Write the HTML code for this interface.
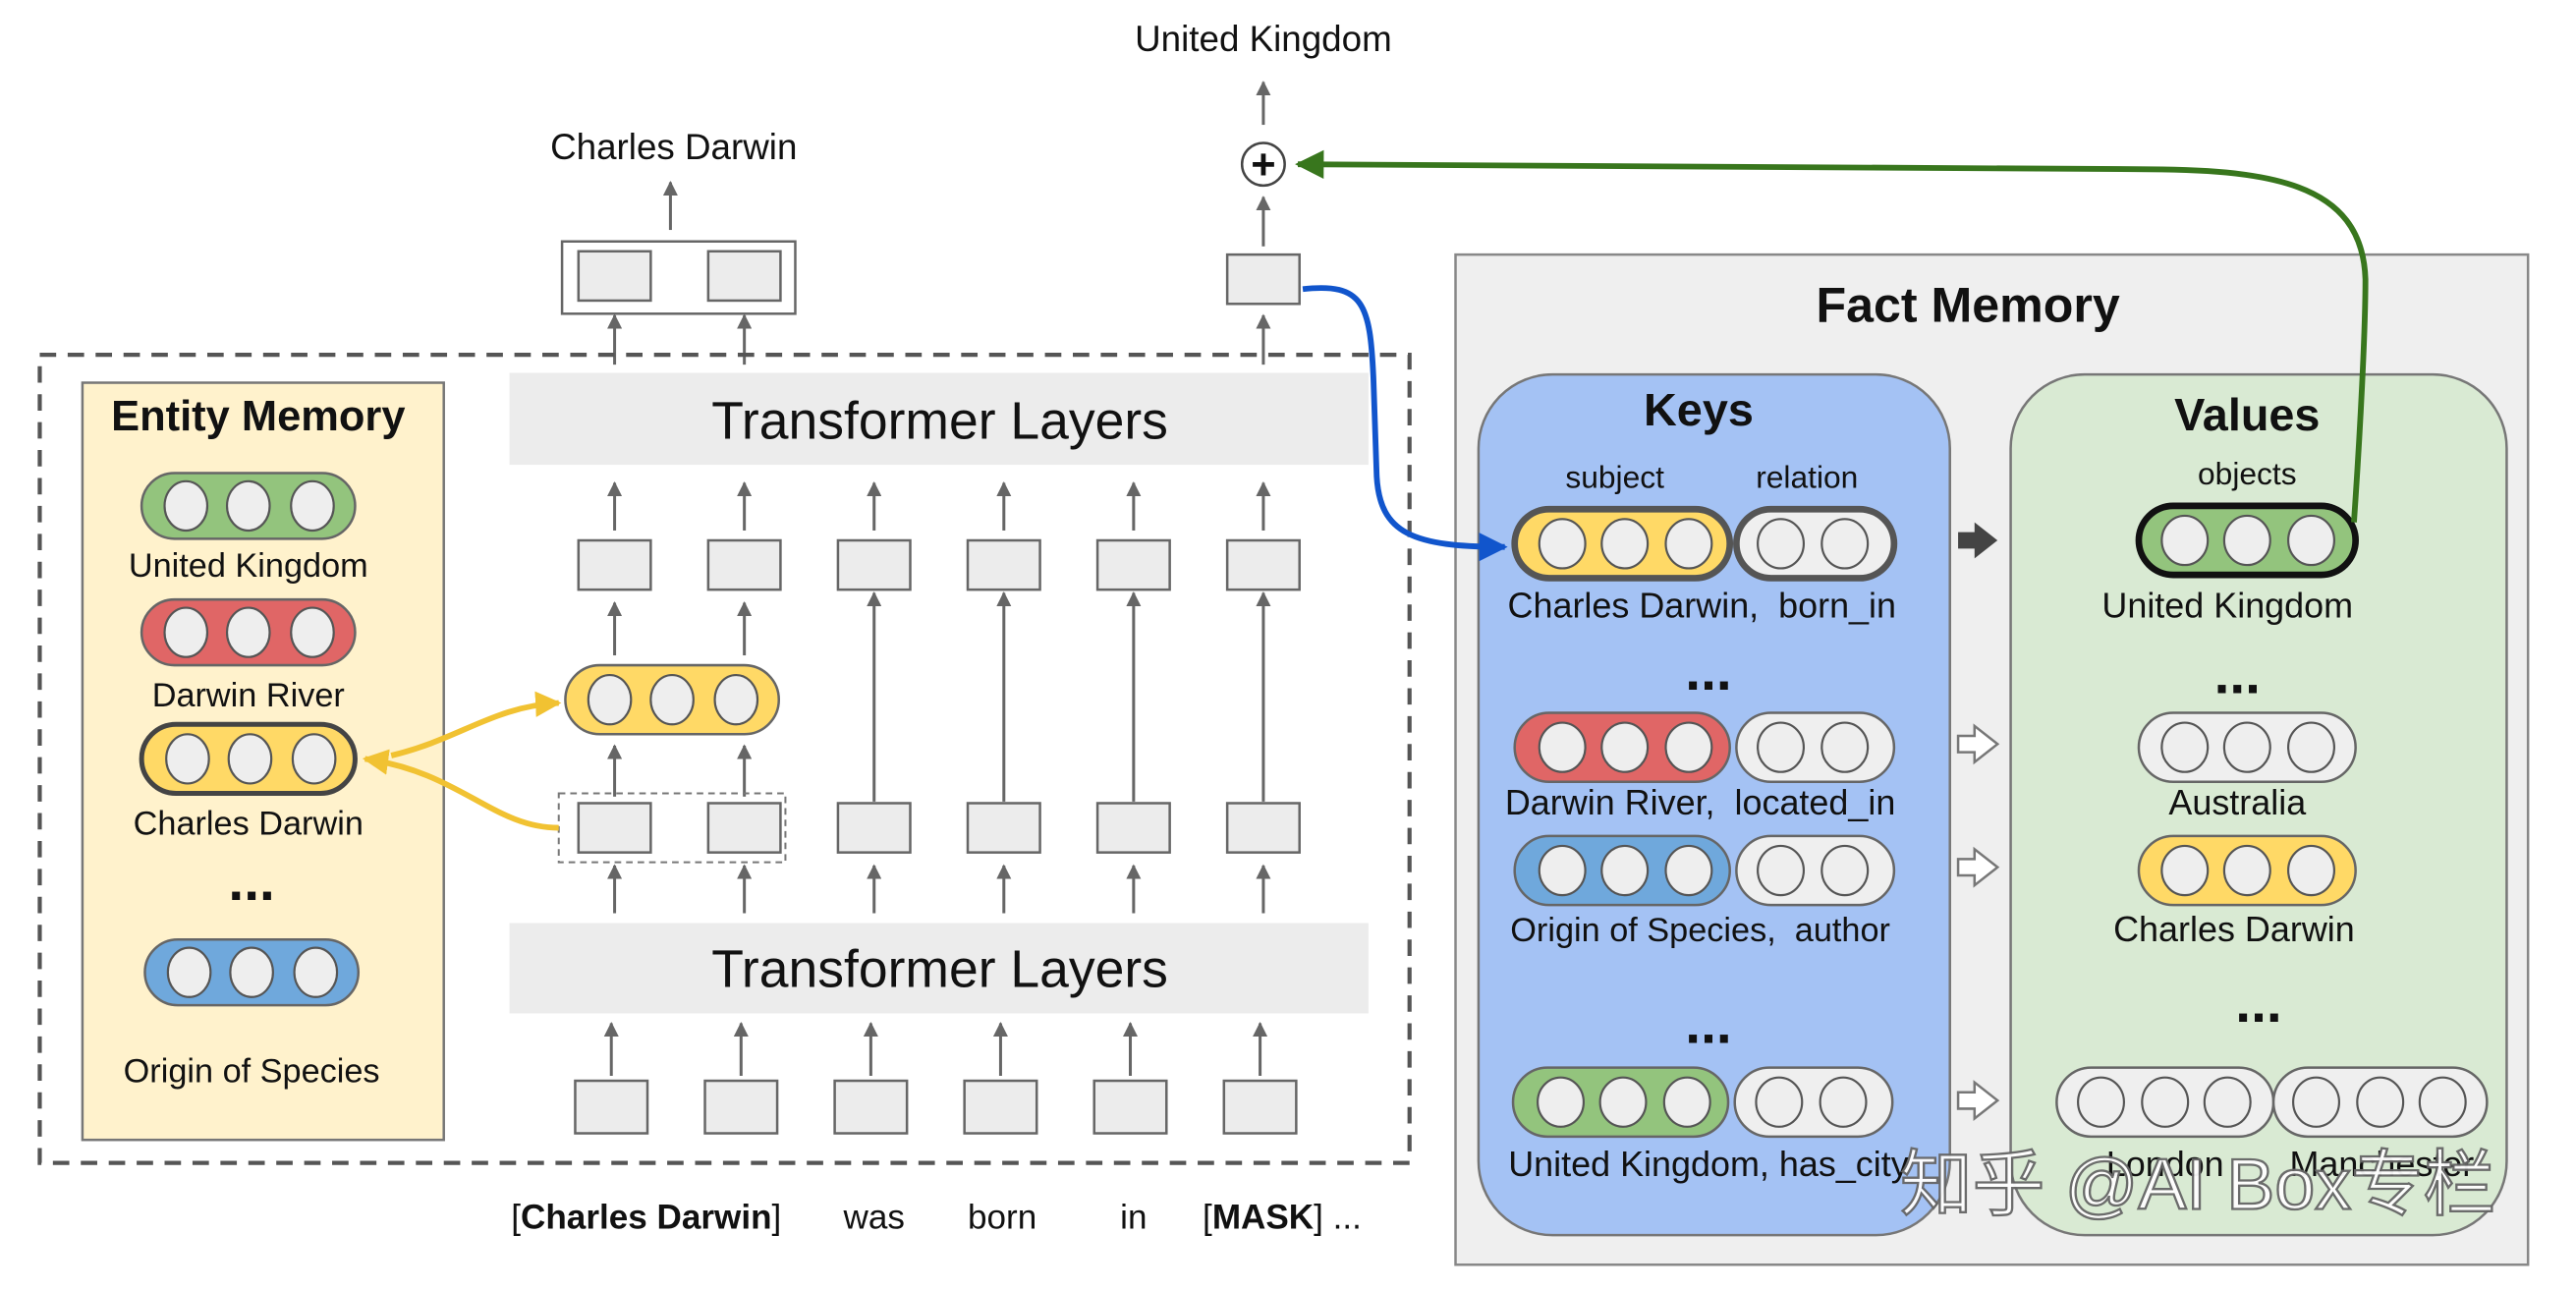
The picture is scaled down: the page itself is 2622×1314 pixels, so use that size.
<!DOCTYPE html>
<html><head><meta charset="utf-8"><style>
html,body{margin:0;padding:0;background:#fff;width:2622px;height:1314px;overflow:hidden}
svg{display:block}
text{font-family:"Liberation Sans","Noto Sans CJK SC",sans-serif;fill:#111}
</style></head><body>
<svg width="2622" height="1314" viewBox="0 0 1568 786" xmlns="http://www.w3.org/2000/svg">
<defs>
<marker id="ag" viewBox="0 0 10 10" refX="9" refY="5" markerWidth="5" markerHeight="5" orient="auto"><path d="M0,0 L10,5 L0,10z" fill="#666"/></marker>
<marker id="ay" viewBox="0 0 10 10" refX="9" refY="5" markerWidth="4.5" markerHeight="4.5" orient="auto"><path d="M0,0 L10,5 L0,10z" fill="#f1c232"/></marker>
<marker id="ab" viewBox="0 0 10 10" refX="9" refY="5" markerWidth="5" markerHeight="5" orient="auto"><path d="M0,0 L10,5 L0,10z" fill="#1155cc"/></marker>
<marker id="agr" viewBox="0 0 10 10" refX="9" refY="5" markerWidth="5" markerHeight="5" orient="auto"><path d="M0,0 L10,5 L0,10z" fill="#38761d"/></marker>
</defs>
<g stroke="#666" stroke-width="1.8" marker-end="url(#ag)" fill="none">
<line x1="769" y1="76" x2="769" y2="50"/>
<line x1="769" y1="150" x2="769" y2="120"/>
<line x1="769" y1="222" x2="769" y2="192"/>
<line x1="408" y1="140" x2="408" y2="111"/>
<line x1="374" y1="222" x2="374" y2="192"/>
<line x1="453" y1="222" x2="453" y2="192"/>
</g>
<text x="769" y="31" font-size="22" text-anchor="middle">United Kingdom</text>
<text x="410" y="97" font-size="22" text-anchor="middle">Charles Darwin</text>
<circle cx="769" cy="100" r="13" fill="#fff" stroke="#444" stroke-width="1.5"/>
<text x="769" y="109" font-size="26" font-weight="bold" text-anchor="middle">+</text>
<rect x="747" y="155" width="44" height="30" fill="#ececec" stroke="#666" stroke-width="1.5"/>
<rect x="342" y="147" width="142" height="44" fill="#fff" stroke="#666" stroke-width="1.5"/>
<rect x="352" y="153" width="44" height="30" fill="#ececec" stroke="#666" stroke-width="1.5"/>
<rect x="431" y="153" width="44" height="30" fill="#ececec" stroke="#666" stroke-width="1.5"/>
<rect x="24" y="216" width="834" height="492" fill="none" stroke="#555" stroke-width="2.5" stroke-dasharray="10,7"/>
<rect x="50" y="233" width="220" height="461" fill="#fff2cc" stroke="#777" stroke-width="1.5"/>
<text x="157" y="262" font-size="26" font-weight="bold" text-anchor="middle">Entity Memory</text>
<g stroke="#666" stroke-width="1.5">
<rect x="86" y="288" width="130" height="40" rx="20" fill="#93c47d"/>
<rect x="86" y="365" width="130" height="40" rx="20" fill="#e06666"/>
<rect x="86" y="441" width="130" height="42" rx="21" fill="#ffd966" stroke="#444" stroke-width="3"/>
<rect x="88" y="572" width="130" height="40" rx="20" fill="#6fa8dc"/>
<rect x="344" y="405" width="130" height="42" rx="21" fill="#ffd966"/>
</g>
<g fill="#eee" stroke="#555" stroke-width="1.3">
<ellipse cx="113" cy="308" rx="13" ry="15"/><ellipse cx="151" cy="308" rx="13" ry="15"/><ellipse cx="190" cy="308" rx="13" ry="15"/>
<ellipse cx="113" cy="385" rx="13" ry="15"/><ellipse cx="151" cy="385" rx="13" ry="15"/><ellipse cx="190" cy="385" rx="13" ry="15"/>
<ellipse cx="114" cy="462" rx="13" ry="15"/><ellipse cx="152" cy="462" rx="13" ry="15"/><ellipse cx="191" cy="462" rx="13" ry="15"/>
<ellipse cx="115" cy="592" rx="13" ry="15"/><ellipse cx="153" cy="592" rx="13" ry="15"/><ellipse cx="192" cy="592" rx="13" ry="15"/>
<ellipse cx="371" cy="426" rx="13" ry="15"/><ellipse cx="409" cy="426" rx="13" ry="15"/><ellipse cx="448" cy="426" rx="13" ry="15"/>
</g>
<g font-size="20.5" text-anchor="middle">
<text x="151" y="351">United Kingdom</text>
<text x="151" y="430">Darwin River</text>
<text x="151" y="508">Charles Darwin</text>
<text x="153" y="659">Origin of Species</text>
</g>
<text x="153" y="548" font-size="34" font-weight="bold" text-anchor="middle">...</text>
<rect x="310" y="227" width="523" height="56" fill="#ececec"/>
<text x="572" y="267" font-size="32" text-anchor="middle">Transformer Layers</text>
<rect x="310" y="562" width="523" height="55" fill="#ececec"/>
<text x="572" y="601" font-size="32" text-anchor="middle">Transformer Layers</text>
<g stroke="#666" stroke-width="1.8" marker-end="url(#ag)" fill="none">
<line x1="374" y1="323" x2="374" y2="294"/><line x1="453" y1="323" x2="453" y2="294"/><line x1="532" y1="323" x2="532" y2="294"/><line x1="611" y1="323" x2="611" y2="294"/><line x1="690" y1="323" x2="690" y2="294"/><line x1="769" y1="323" x2="769" y2="294"/>
<line x1="374" y1="399" x2="374" y2="367"/><line x1="453" y1="399" x2="453" y2="367"/>
<line x1="374" y1="485" x2="374" y2="454"/><line x1="453" y1="485" x2="453" y2="454"/>
<line x1="532" y1="488" x2="532" y2="361"/><line x1="611" y1="488" x2="611" y2="361"/><line x1="690" y1="488" x2="690" y2="361"/><line x1="769" y1="488" x2="769" y2="361"/>
<line x1="374" y1="556" x2="374" y2="527"/><line x1="453" y1="556" x2="453" y2="527"/><line x1="532" y1="556" x2="532" y2="527"/><line x1="611" y1="556" x2="611" y2="527"/><line x1="690" y1="556" x2="690" y2="527"/><line x1="769" y1="556" x2="769" y2="527"/>
<line x1="372" y1="655" x2="372" y2="623"/><line x1="451" y1="655" x2="451" y2="623"/><line x1="530" y1="655" x2="530" y2="623"/><line x1="609" y1="655" x2="609" y2="623"/><line x1="688" y1="655" x2="688" y2="623"/><line x1="767" y1="655" x2="767" y2="623"/>
</g>
<g fill="#ececec" stroke="#666" stroke-width="1.5">
<rect x="352" y="329" width="44" height="30"/><rect x="431" y="329" width="44" height="30"/><rect x="510" y="329" width="44" height="30"/><rect x="589" y="329" width="44" height="30"/><rect x="668" y="329" width="44" height="30"/><rect x="747" y="329" width="44" height="30"/>
<rect x="352" y="489" width="44" height="30"/><rect x="431" y="489" width="44" height="30"/><rect x="510" y="489" width="44" height="30"/><rect x="589" y="489" width="44" height="30"/><rect x="668" y="489" width="44" height="30"/><rect x="747" y="489" width="44" height="30"/>
<rect x="350" y="658" width="44" height="32"/><rect x="429" y="658" width="44" height="32"/><rect x="508" y="658" width="44" height="32"/><rect x="587" y="658" width="44" height="32"/><rect x="666" y="658" width="44" height="32"/><rect x="745" y="658" width="44" height="32"/>
</g>
<rect x="340" y="483" width="138" height="42" fill="none" stroke="#777" stroke-width="1.2" stroke-dasharray="4,3"/>
<g font-size="21">
<text x="311" y="748">[<tspan font-weight="bold">Charles Darwin</tspan>]</text>
<text x="532" y="748" text-anchor="middle">was</text>
<text x="610" y="748" text-anchor="middle">born</text>
<text x="690" y="748" text-anchor="middle">in</text>
<text x="732" y="748">[<tspan font-weight="bold">MASK</tspan>] ...</text>
</g>
<path d="M340,504 C300,504 280,470 222,462" stroke="#f1c232" stroke-width="3.5" fill="none" marker-end="url(#ay)"/>
<path d="M238,460 C280,450 300,430 340,428" stroke="#f1c232" stroke-width="3.5" fill="none" marker-end="url(#ay)"/>
<rect x="886" y="155" width="653" height="615" fill="#efefef" stroke="#888" stroke-width="1.5"/>
<text x="1198" y="196" font-size="30" font-weight="bold" text-anchor="middle">Fact Memory</text>
<rect x="900" y="228" width="287" height="524" rx="45" fill="#a4c2f4" stroke="#777" stroke-width="1.5"/>
<rect x="1224" y="228" width="302" height="524" rx="45" fill="#d9ead3" stroke="#777" stroke-width="1.5"/>
<text x="1034" y="259" font-size="28" font-weight="bold" text-anchor="middle">Keys</text>
<text x="1368" y="262" font-size="28" font-weight="bold" text-anchor="middle">Values</text>
<text x="983" y="297" font-size="19" text-anchor="middle">subject</text>
<text x="1100" y="297" font-size="19" text-anchor="middle">relation</text>
<text x="1368" y="295" font-size="19" text-anchor="middle">objects</text>
<g stroke="#666" stroke-width="1.5">
<rect x="922" y="310" width="131" height="42" rx="21" fill="#ffd966" stroke="#555" stroke-width="4"/>
<rect x="1057" y="310" width="96" height="42" rx="21" fill="#efefef" stroke="#555" stroke-width="4"/>
<rect x="922" y="434" width="131" height="42" rx="21" fill="#e06666"/>
<rect x="1057" y="434" width="96" height="42" rx="21" fill="#efefef"/>
<rect x="922" y="509" width="131" height="42" rx="21" fill="#6fa8dc"/>
<rect x="1057" y="509" width="96" height="42" rx="21" fill="#efefef"/>
<rect x="921" y="650" width="131" height="42" rx="21" fill="#93c47d"/>
<rect x="1056" y="650" width="96" height="42" rx="21" fill="#efefef"/>
<rect x="1302" y="308" width="132" height="42" rx="21" fill="#93c47d" stroke="#111" stroke-width="4"/>
<rect x="1302" y="434" width="132" height="42" rx="21" fill="#efefef"/>
<rect x="1302" y="509" width="132" height="42" rx="21" fill="#ffd966"/>
<rect x="1252" y="650" width="132" height="42" rx="21" fill="#efefef"/>
<rect x="1384" y="650" width="130" height="42" rx="21" fill="#efefef"/>
</g>
<g fill="#eee" stroke="#555" stroke-width="1.3">
<ellipse cx="951" cy="331" rx="14" ry="15"/><ellipse cx="989" cy="331" rx="14" ry="15"/><ellipse cx="1028" cy="331" rx="14" ry="15"/><ellipse cx="1084" cy="331" rx="14" ry="15"/><ellipse cx="1123" cy="331" rx="14" ry="15"/>
<ellipse cx="951" cy="455" rx="14" ry="15"/><ellipse cx="989" cy="455" rx="14" ry="15"/><ellipse cx="1028" cy="455" rx="14" ry="15"/><ellipse cx="1084" cy="455" rx="14" ry="15"/><ellipse cx="1123" cy="455" rx="14" ry="15"/>
<ellipse cx="951" cy="530" rx="14" ry="15"/><ellipse cx="989" cy="530" rx="14" ry="15"/><ellipse cx="1028" cy="530" rx="14" ry="15"/><ellipse cx="1084" cy="530" rx="14" ry="15"/><ellipse cx="1123" cy="530" rx="14" ry="15"/>
<ellipse cx="950" cy="671" rx="14" ry="15"/><ellipse cx="988" cy="671" rx="14" ry="15"/><ellipse cx="1027" cy="671" rx="14" ry="15"/><ellipse cx="1083" cy="671" rx="14" ry="15"/><ellipse cx="1122" cy="671" rx="14" ry="15"/>
<ellipse cx="1330" cy="329" rx="14" ry="15"/><ellipse cx="1368" cy="329" rx="14" ry="15"/><ellipse cx="1407" cy="329" rx="14" ry="15"/>
<ellipse cx="1330" cy="455" rx="14" ry="15"/><ellipse cx="1368" cy="455" rx="14" ry="15"/><ellipse cx="1407" cy="455" rx="14" ry="15"/>
<ellipse cx="1330" cy="530" rx="14" ry="15"/><ellipse cx="1368" cy="530" rx="14" ry="15"/><ellipse cx="1407" cy="530" rx="14" ry="15"/>
<ellipse cx="1279" cy="671" rx="14" ry="15"/><ellipse cx="1318" cy="671" rx="14" ry="15"/><ellipse cx="1356" cy="671" rx="14" ry="15"/>
<ellipse cx="1410" cy="671" rx="14" ry="15"/><ellipse cx="1449" cy="671" rx="14" ry="15"/><ellipse cx="1487" cy="671" rx="14" ry="15"/>
</g>
<g font-size="21.5" text-anchor="middle">
<text x="1036" y="376">Charles Darwin,&#160;&#160;born_in</text>
<text x="1035" y="496">Darwin River,&#160;&#160;located_in</text>
<text x="1035" y="573" font-size="20.5">Origin of Species,&#160;&#160;author</text>
<text x="1040" y="716">United Kingdom, has_city</text>
<text x="1356" y="376">United Kingdom</text>
<text x="1362" y="496">Australia</text>
<text x="1360" y="573">Charles Darwin</text>
<text x="1318" y="716">London</text>
<text x="1450" y="716">Manchester</text>
</g>
<g font-size="34" font-weight="bold" text-anchor="middle">
<text x="1040" y="420">...</text>
<text x="1040" y="635">...</text>
<text x="1362" y="422">...</text>
<text x="1375" y="622">...</text>
</g>
<path d="M1192,324 h10 v-6 l14,11 l-14,11 v-6 h-10z" fill="#444"/>
<g fill="#fff" stroke="#777" stroke-width="1.5">
<path d="M1192,448 h10 v-6 l14,11 l-14,11 v-6 h-10z"/>
<path d="M1192,523 h10 v-6 l14,11 l-14,11 v-6 h-10z"/>
<path d="M1192,665 h10 v-6 l14,11 l-14,11 v-6 h-10z"/>
</g>
<path d="M793,176 C830,172 834,185 836,230 L838,290 C840,325 860,333 916,333" stroke="#1155cc" stroke-width="3.5" fill="none" marker-end="url(#ab)"/>
<path d="M1433,318 C1437,260 1440,200 1440,170 C1438,110 1380,103 1300,103 L790,100" stroke="#38761d" stroke-width="3.5" fill="none" marker-end="url(#agr)"/>
<text x="1338" y="736" font-size="44" text-anchor="middle" style="fill:#fff;stroke:#666;stroke-width:1.4;opacity:0.95">知乎 @AI Box专栏</text>
</svg>
</body></html>
